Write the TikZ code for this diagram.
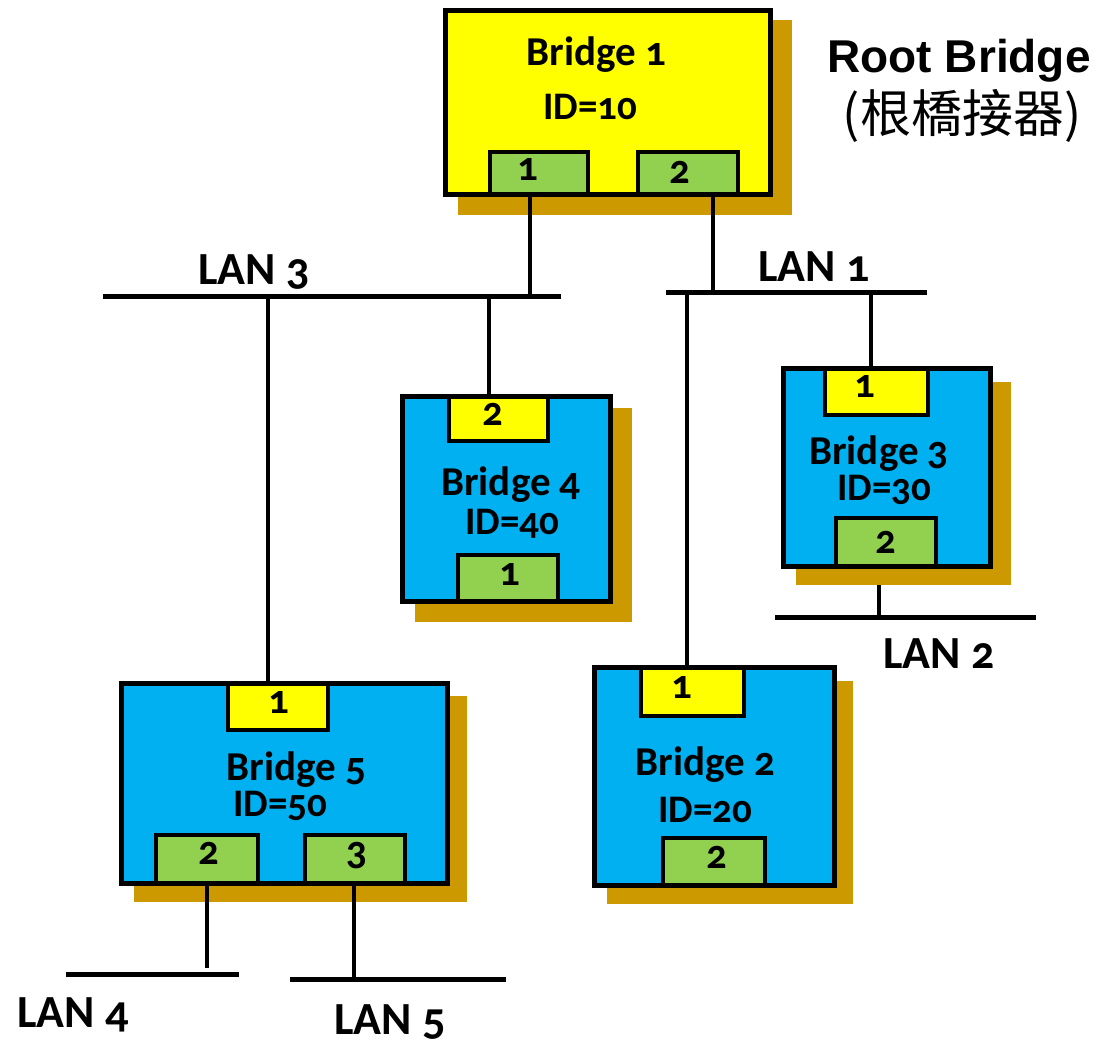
\documentclass[tikz,border=0pt]{standalone}
\usepackage{fontspec}
\setmainfont{Carlito}[Numbers=OldStyle]
\newfontfamily\rootfont{Liberation Sans}
\newfontfamily\cjk{Noto Sans CJK TC}
\definecolor{shadowc}{HTML}{CC9900}
\definecolor{brblue}{HTML}{00B0F0}
\definecolor{bryellow}{HTML}{FFFF00}
\definecolor{pgreen}{HTML}{92D050}
\pgfdeclarelayer{back}
\pgfsetlayers{back,main}
\begin{document}
\begin{tikzpicture}[x=1pt,y=-1pt,
  shadowbox/.style={fill=shadowc, draw=none, inner sep=0pt, outer sep=0pt},
  bridgebox/.style={draw=black, line width=5pt, inner sep=0pt, outer sep=0pt},
  portbox/.style={draw=black, line width=4.5pt, inner sep=0pt, outer sep=0pt},
  lbl/.style={font=\fontsize{41}{41}\selectfont\bfseries, inner sep=0pt, anchor=base},
  idlbl/.style={font=\fontsize{39}{39}\selectfont\bfseries, inner sep=0pt, anchor=base},
  digit/.style={font=\fontsize{41}{41}\selectfont\bfseries, inner sep=0pt, anchor=base},
  lanlbl/.style={font=\fontsize{46}{46}\selectfont\bfseries, inner sep=0pt, anchor=base},
  conn/.style={draw=black, line width=4.5pt},
  lan/.style={draw=black, line width=5pt}
]
\useasboundingbox (0,0) rectangle (1102,1045);

% shadows
\node[shadowbox, minimum width=334, minimum height=195] (b1s) at (625,117.5) {};
\node[shadowbox, minimum width=217, minimum height=214] (b4s) at (523.5,515) {};
\node[shadowbox, minimum width=215, minimum height=203] (b3s) at (903.5,483.5) {};
\node[shadowbox, minimum width=246, minimum height=223] (b2s) at (730,792.5) {};
\node[shadowbox, minimum width=333, minimum height=206] (b5s) at (300.5,799) {};

% bridge boxes
\node[bridgebox, fill=bryellow, minimum width=325, minimum height=184] (b1) at (608,102.5) {};
\node[bridgebox, fill=brblue, minimum width=208, minimum height=205] (b4) at (506.5,499) {};
\node[bridgebox, fill=brblue, minimum width=207, minimum height=198] (b3) at (887,467.5) {};
\node[bridgebox, fill=brblue, minimum width=240, minimum height=218] (b2) at (714.5,776.5) {};
\node[bridgebox, fill=brblue, minimum width=326, minimum height=200] (b5) at (284.5,783.5) {};

% ports
\node[portbox, fill=pgreen, minimum width=98, minimum height=42.5] (b1p1) at (539,173.25) {};
\node[portbox, fill=pgreen, minimum width=100, minimum height=42.5] (b1p2) at (688,173.25) {};
\node[portbox, fill=bryellow, minimum width=99, minimum height=44.5] (b4p2) at (498.5,418.75) {};
\node[portbox, fill=pgreen, minimum width=100, minimum height=46.5] (b4p1) at (508,578.25) {};
\node[portbox, fill=bryellow, minimum width=103, minimum height=46.5] (b3p1) at (876.5,391.75) {};
\node[portbox, fill=pgreen, minimum width=100, minimum height=48.5] (b3p2) at (886,542.25) {};
\node[portbox, fill=bryellow, minimum width=103, minimum height=48.5] (b2p1) at (692.5,691.75) {};
\node[portbox, fill=pgreen, minimum width=102, minimum height=47.5] (b2p2) at (714,861.75) {};
\node[portbox, fill=bryellow, minimum width=100, minimum height=46.5] (b5p1) at (278,706.75) {};
\node[portbox, fill=pgreen, minimum width=102, minimum height=48.5] (b5p2) at (207,859.25) {};
\node[portbox, fill=pgreen, minimum width=100, minimum height=48.5] (b5p3) at (355,859.25) {};

% port digits
\node[digit] (b1p1t) at (528,180) {1};
\node[digit] (b1p2t) at (680,183) {2};
\node[digit] (b4p2t) at (493,425) {2};
\node[digit] (b4p1t) at (510,585) {1};
\node[digit] (b3p1t) at (865,397) {1};
\node[digit] (b3p2t) at (886,553) {2};
\node[digit] (b2p1t) at (682,698) {1};
\node[digit] (b2p2t) at (717,868) {2};
\node[digit] (b5p1t) at (279,713) {1};
\node[digit] (b5p2t) at (209,864) {2};
\node[digit] (b5p3t) at (357,864) {3};

% bridge labels
\node[lbl] (b1n) at (596.5,65) {Bridge 1};
\node[idlbl] (b1i) at (590,119) {ID=10};
\node[lbl] (b4n) at (511,495) {Bridge 4};
\node[idlbl] (b4i) at (512.5,534) {ID=40};
\node[lbl] (b3n) at (879,464) {Bridge 3};
\node[idlbl] (b3i) at (884,500) {ID=30};
\node[lbl] (b2n) at (705.5,775) {Bridge 2};
\node[idlbl] (b2i) at (705.5,822) {ID=20};
\node[lbl] (b5n) at (296.5,780) {Bridge 5};
\node[idlbl] (b5i) at (280,816) {ID=50};

% LAN coordinates
\coordinate (l3w) at (103,296);
\coordinate (l3e) at (561,296);
\coordinate (l1w) at (666,292);
\coordinate (l1e) at (927,292);
\coordinate (l2w) at (775,617);
\coordinate (l2e) at (1036,617);
\coordinate (l4w) at (66,974);
\coordinate (l4e) at (239,974);
\coordinate (l5w) at (290,979);
\coordinate (l5e) at (506,979);

\coordinate (l3a) at (530,296);
\coordinate (l3b) at (489,296);
\coordinate (l3c) at (268,296);
\coordinate (l1a) at (713,292);
\coordinate (l1b) at (871,292);
\coordinate (l1c) at (687,292);
\coordinate (l2a) at (879,617);
\coordinate (l4a) at (207,968);
\coordinate (l5a) at (354,979);

% LAN lines
\draw[lan] (l3w) -- (l3e);
\draw[lan] (l1w) -- (l1e);
\draw[lan] (l2w) -- (l2e);
\draw[lan] (l4w) -- (l4e);
\draw[lan] (l5w) -- (l5e);

% connectors
\draw[conn] (l3a |- b1p1.south) -- (l3a);
\draw[conn] (l1a |- b1p2.south) -- (l1a);
\draw[conn] (l3b) -- (l3b |- b4.north);
\draw[conn] (l3c) -- (l3c |- b5.north);
\draw[conn] (l1b) -- (l1b |- b3.north);
\draw[conn] (l1c) -- (l1c |- b2.north);
\begin{pgfonlayer}{back}
\draw[conn] (l2a |- b3p2.south) -- (l2a);
\end{pgfonlayer}
\draw[conn] (l4a |- b5p2.south) -- (l4a);
\draw[conn] (l5a |- b5p3.south) -- (l5a);

% LAN labels
\node[lanlbl] (lan3) at (254,284) {LAN 3};
\node[lanlbl] (lan1) at (814,281) {LAN 1};
\node[lanlbl] (lan2) at (939,668) {LAN 2};
\node[lanlbl] (lan4) at (73,1027) {LAN 4};
\node[lanlbl] (lan5) at (390,1034) {LAN 5};

% root bridge caption
\node[font=\fontsize{46}{46}\selectfont\rootfont\bfseries, inner sep=0pt, anchor=base] (root) at (959,72) {Root Bridge};
\node[font=\fontsize{51}{51}\selectfont\cjk, inner sep=0pt, anchor=base] (rootzh) at (962,132) {(根橋接器)};
\end{tikzpicture}
\end{document}
